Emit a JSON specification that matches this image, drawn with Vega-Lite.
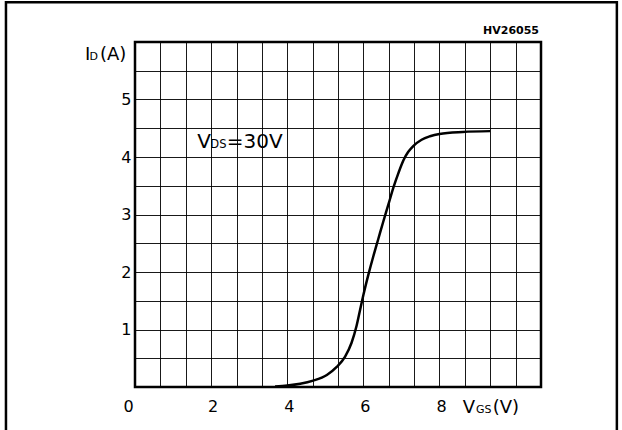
{
  "$schema": "https://vega.github.io/schema/vega-lite/v6.json",
  "width": 406,
  "height": 345,
  "autosize": "none",
  "padding": {"left": 135, "top": 42, "right": 81, "bottom": 43},
  "background": "white",
  "config": {
    "view": {"stroke": "black", "strokeWidth": 2.5},
    "font": "DejaVu Sans"
  },
  "datasets": {
    "curve": [
      {"x": 3.68, "y": 0.01}, {"x": 4.0, "y": 0.025}, {"x": 4.34, "y": 0.055},
      {"x": 4.68, "y": 0.11}, {"x": 5.04, "y": 0.21}, {"x": 5.3, "y": 0.35},
      {"x": 5.52, "y": 0.53}, {"x": 5.69, "y": 0.77}, {"x": 5.82, "y": 1.06},
      {"x": 5.91, "y": 1.33}, {"x": 6.0, "y": 1.6}, {"x": 6.13, "y": 1.95},
      {"x": 6.26, "y": 2.27}, {"x": 6.39, "y": 2.57}, {"x": 6.52, "y": 2.87},
      {"x": 6.66, "y": 3.18}, {"x": 6.79, "y": 3.47}, {"x": 6.92, "y": 3.72},
      {"x": 7.05, "y": 3.94}, {"x": 7.18, "y": 4.09}, {"x": 7.31, "y": 4.19},
      {"x": 7.53, "y": 4.3}, {"x": 7.75, "y": 4.36}, {"x": 8.0, "y": 4.4},
      {"x": 8.61, "y": 4.435}, {"x": 9.33, "y": 4.45}
    ],
    "frame": [{"x": -3.39, "x2": 12.66, "y": 6.69, "y2": -1.2}],
    "big17": [
      {"x": -1.314, "y": 5.69, "t": "I"},
      {"x": -0.92, "y": 5.69, "t": "(A)"},
      {"x": 8.61, "y": -0.457, "t": "V"},
      {"x": 9.398, "y": -0.457, "t": "(V)"}
    ],
    "sub11": [
      {"x": -1.195, "y": 5.69, "t": "D"},
      {"x": 8.957, "y": -0.457, "t": "GS"}
    ],
    "big20": [
      {"x": 1.637, "y": 4.151, "t": "V"},
      {"x": 2.409, "y": 4.151, "t": "=30V"}
    ],
    "sub13": [
      {"x": 1.98, "y": 4.151, "t": "DS"}
    ],
    "code": [
      {"x": 10.615, "y": 6.139, "t": "HV26055"}
    ]
  },
  "layer": [
    {
      "data": {"name": "curve"},
      "mark": {"type": "line", "color": "black", "strokeWidth": 2.5, "interpolate": "monotone"},
      "encoding": {
        "x": {
          "field": "x", "type": "quantitative",
          "scale": {"domain": [0, 10.6667], "nice": false, "zero": false},
          "axis": {
            "title": null,
            "values": [0, 0.6667, 1.3333, 2, 2.6667, 3.3333, 4, 4.6667, 5.3333, 6, 6.6667, 7.3333, 8, 8.6667, 9.3333, 10, 10.6667],
            "tickCount": 40,
            "labelExpr": "(datum.value % 2 == 0 && datum.value <= 8) ? format(datum.value, 'd') : ''",
            "grid": true, "gridColor": "#000", "gridOpacity": 0.9, "gridWidth": 1,
            "domain": false, "ticks": false,
            "labelFontSize": 16, "labelColor": "#000", "labelPadding": 11,
            "labelFlush": false, "labelOverlap": false,
            "labelOffset": {"condition": {"test": "datum.value == 0", "value": -7}, "value": 1.5}
          }
        },
        "y": {
          "field": "y", "type": "quantitative",
          "scale": {"domain": [0, 6], "nice": false, "zero": false},
          "axis": {
            "title": null,
            "values": [0, 0.5, 1, 1.5, 2, 2.5, 3, 3.5, 4, 4.5, 5, 5.5, 6],
            "tickCount": 40,
            "labelExpr": "(datum.value >= 1 && datum.value <= 5 && datum.value % 1 == 0) ? format(datum.value, 'd') : ''",
            "grid": true, "gridColor": "#000", "gridOpacity": 0.9, "gridWidth": 1,
            "domain": false, "ticks": false,
            "labelFontSize": 16, "labelColor": "#000", "labelPadding": 4,
            "labelFlush": false, "labelOverlap": false
          }
        }
      }
    },
    {
      "data": {"name": "frame"},
      "mark": {"type": "rect", "fill": null, "fillOpacity": 0, "stroke": "black", "strokeWidth": 2.5, "clip": false},
      "encoding": {
        "x": {"field": "x", "type": "quantitative"},
        "x2": {"field": "x2"},
        "y": {"field": "y", "type": "quantitative"},
        "y2": {"field": "y2"}
      }
    },
    {
      "data": {"name": "big17"},
      "mark": {"type": "text", "align": "left", "baseline": "alphabetic", "fontSize": 18, "color": "black"},
      "encoding": {
        "x": {"field": "x", "type": "quantitative"},
        "y": {"field": "y", "type": "quantitative"},
        "text": {"field": "t"}
      }
    },
    {
      "data": {"name": "sub11"},
      "mark": {"type": "text", "align": "left", "baseline": "alphabetic", "fontSize": 11, "color": "black"},
      "encoding": {
        "x": {"field": "x", "type": "quantitative"},
        "y": {"field": "y", "type": "quantitative"},
        "text": {"field": "t"}
      }
    },
    {
      "data": {"name": "big20"},
      "mark": {"type": "text", "align": "left", "baseline": "alphabetic", "fontSize": 20, "color": "black"},
      "encoding": {
        "x": {"field": "x", "type": "quantitative"},
        "y": {"field": "y", "type": "quantitative"},
        "text": {"field": "t"}
      }
    },
    {
      "data": {"name": "sub13"},
      "mark": {"type": "text", "align": "left", "baseline": "alphabetic", "fontSize": 11.5, "color": "black"},
      "encoding": {
        "x": {"field": "x", "type": "quantitative"},
        "y": {"field": "y", "type": "quantitative"},
        "text": {"field": "t"}
      }
    },
    {
      "data": {"name": "code"},
      "mark": {"type": "text", "align": "right", "baseline": "alphabetic", "fontSize": 11, "fontWeight": "bold", "color": "black"},
      "encoding": {
        "x": {"field": "x", "type": "quantitative"},
        "y": {"field": "y", "type": "quantitative"},
        "text": {"field": "t"}
      }
    }
  ]
}
